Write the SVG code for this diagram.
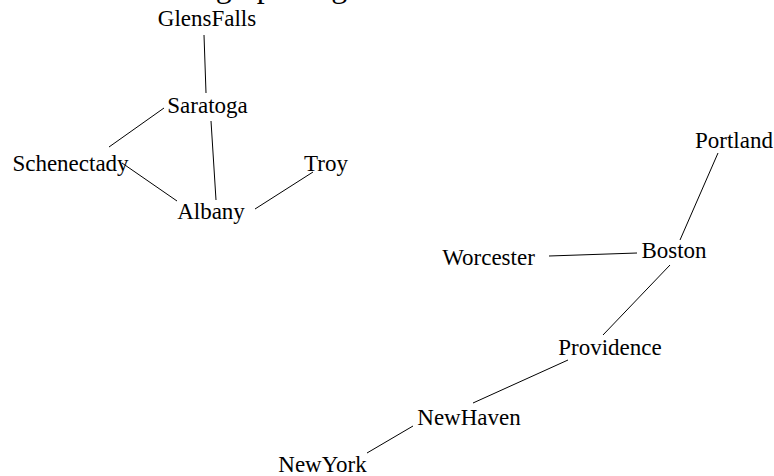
<svg xmlns="http://www.w3.org/2000/svg" width="774" height="476" viewBox="0 0 774 476">
<style>
  text { font-family: "Liberation Serif", "Times New Roman", serif; font-size: 23px; fill: #000; text-anchor: middle; }
  .title { font-size: 32px; text-anchor: start; }
  .edges line { stroke: #000; stroke-width: 1; }
</style>
<rect width="774" height="476" fill="#fff"/>
<text class="title" x="166" y="-3">Subgraph of g</text>
<g class="edges" id="edges">
  <line x1="204" y1="35" x2="206" y2="93"/>
  <line x1="164" y1="108" x2="109" y2="147"/>
  <line x1="211" y1="121" x2="216" y2="200"/>
  <line x1="122" y1="163" x2="177" y2="201"/>
  <line x1="313" y1="172" x2="255" y2="209"/>
  <line x1="718" y1="153" x2="680" y2="240"/>
  <line x1="549" y1="256" x2="637" y2="253"/>
  <line x1="670" y1="265" x2="603" y2="335"/>
  <line x1="568" y1="360" x2="473" y2="403"/>
  <line x1="413" y1="426" x2="367" y2="453"/>
</g>
<g id="GlensFalls"><text x="207" y="26">GlensFalls</text></g>
<g id="Saratoga"><text x="207.5" y="113">Saratoga</text></g>
<g id="Schenectady"><text x="70.5" y="171">Schenectady</text></g>
<g id="Troy"><text x="326" y="171">Troy</text></g>
<g id="Albany"><text x="211" y="219">Albany</text></g>
<g id="Portland"><text x="734" y="148">Portland</text></g>
<g id="Boston"><text x="674" y="258">Boston</text></g>
<g id="Worcester"><text x="488.5" y="265">Worcester</text></g>
<g id="Providence"><text x="610" y="355">Providence</text></g>
<g id="NewHaven"><text x="469" y="425">NewHaven</text></g>
<g id="NewYork"><text x="322.5" y="472">NewYork</text></g>
</svg>
